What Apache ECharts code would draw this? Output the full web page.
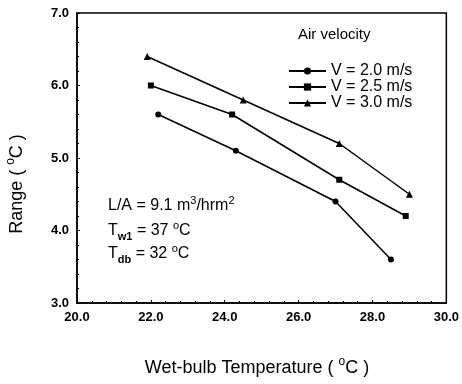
<!DOCTYPE html>
<html><head><meta charset="utf-8">
<script src="https://cdn.jsdelivr.net/npm/echarts@6/dist/echarts.min.js"></script>
<style>html,body{margin:0;padding:0;background:#fff}#c{width:462px;height:384px}</style>
</head><body><div id="c"></div>
<script>
const xTicks = [20, 22, 24, 26, 28, 30];
const yTicks = [3, 4, 5, 6, 7];
const seriesNames = ['V = 2.0 m/s', 'V = 2.5 m/s', 'V = 3.0 m/s'];
const x20 = [22.2, 24.3, 27.0, 28.5];
const y20 = [5.6, 5.1, 4.4, 3.6];
const x25 = [22.0, 24.2, 27.1, 28.9];
const y25 = [6.0, 5.6, 4.7, 4.2];
const x30 = [21.9, 24.5, 27.1, 29.0];
const y30 = [6.4, 5.8, 5.2, 4.5];

const FONT = '"Liberation Sans", Arial, sans-serif';
const pair = (xs, ys) => xs.map((x, i) => [x, ys[i]]);
const chart = echarts.init(document.getElementById('c'));
const lineStyle = {color: '#000', width: 1.5};
function mk(name, data, symbol, size) {
  return {type: 'line', name, data, symbol, symbolSize: size,
    lineStyle, itemStyle: {color: '#000'}, animation: false};
}
function richSet(fs, ss) {
  return {
    b: {fontFamily: FONT, fontSize: fs, color: '#000', lineHeight: fs + 6, verticalAlign: 'middle'},
    sup: {fontFamily: FONT, fontSize: ss, color: '#000', lineHeight: fs + 6, verticalAlign: 'top', padding: [0, 0, Math.round(fs * 0.6), 0]},
    sub: {fontFamily: FONT, fontSize: ss, fontWeight: 'bold', color: '#000', lineHeight: fs + 6, verticalAlign: 'bottom', padding: [Math.round(fs * 0.45), 0, 0, 0]}
  };
}
const rich = richSet(16, 11);
const richTitle = richSet(18, 12);
chart.setOption({
  animation: false,
  grid: {left: 77, right: 13, top: 13, bottom: 81, show: true, borderColor: '#000', borderWidth: 1.5},
  xAxis: {type: 'value', min: xTicks[0], max: xTicks[xTicks.length - 1], interval: 2,
    axisLine: {show: true, lineStyle: {color: '#000', width: 1.5}},
    axisTick: {inside: true, length: 3, lineStyle: {color: '#000'}},
    minorTick: {show: true, splitNumber: 5, length: 2, lineStyle: {color: '#000'}},
    splitLine: {show: false},
    axisLabel: {fontFamily: FONT, fontSize: 13, fontWeight: 'bold', color: '#000', margin: 8,
      formatter: v => v.toFixed(1)}
  },
  yAxis: {type: 'value', min: yTicks[0], max: yTicks[yTicks.length - 1], interval: 1,
    axisLine: {show: true, lineStyle: {color: '#000', width: 1.5}},
    axisTick: {inside: true, length: 3, lineStyle: {color: '#000'}},
    minorTick: {show: true, splitNumber: 5, length: 2, lineStyle: {color: '#000'}},
    splitLine: {show: false},
    axisLabel: {fontFamily: FONT, fontSize: 13, fontWeight: 'bold', color: '#000', margin: 8,
      formatter: v => v.toFixed(1)}
  },
  legend: {orient: 'vertical', left: 288, top: 63, padding: 0, itemWidth: 37, itemHeight: 9, itemGap: 0,
    data: seriesNames,
    textStyle: {fontFamily: FONT, fontSize: 16, color: '#000', lineHeight: 16}},
  series: [
    mk(seriesNames[0], pair(x20, y20), 'circle', 6),
    mk(seriesNames[1], pair(x25, y25), 'rect', 6),
    mk(seriesNames[2], pair(x30, y30), 'triangle', 7)
  ],
  graphic: [
    {type: 'text', left: 298, top: 27, style: {text: 'Air velocity', font: '15px ' + FONT, fill: '#000'}},
    {type: 'text', x: 108, y: 206, style: {text: '{b|L/A = 9.1 m}{sup|3}{b|/hrm}{sup|2}', rich, verticalAlign: 'middle'}},
    {type: 'text', x: 108, y: 231, style: {text: '{b|T}{sub|w1}{b| = 37 }{sup|o}{b|C}', rich, verticalAlign: 'middle'}},
    {type: 'text', x: 108, y: 254, style: {text: '{b|T}{sub|db}{b| = 32 }{sup|o}{b|C}', rich, verticalAlign: 'middle'}},
    {type: 'text', x: 257, y: 368, style: {text: '{b|Wet-bulb Temperature ( }{sup|o}{b|C )}', rich: richTitle,
      align: 'center', verticalAlign: 'middle'}},
    {type: 'text', x: 17, y: 184, rotation: Math.PI / 2, style: {text: '{b|Range ( }{sup|o}{b|C )}', rich: richTitle,
      align: 'center', verticalAlign: 'middle'}}
  ]
});
</script></body></html>
